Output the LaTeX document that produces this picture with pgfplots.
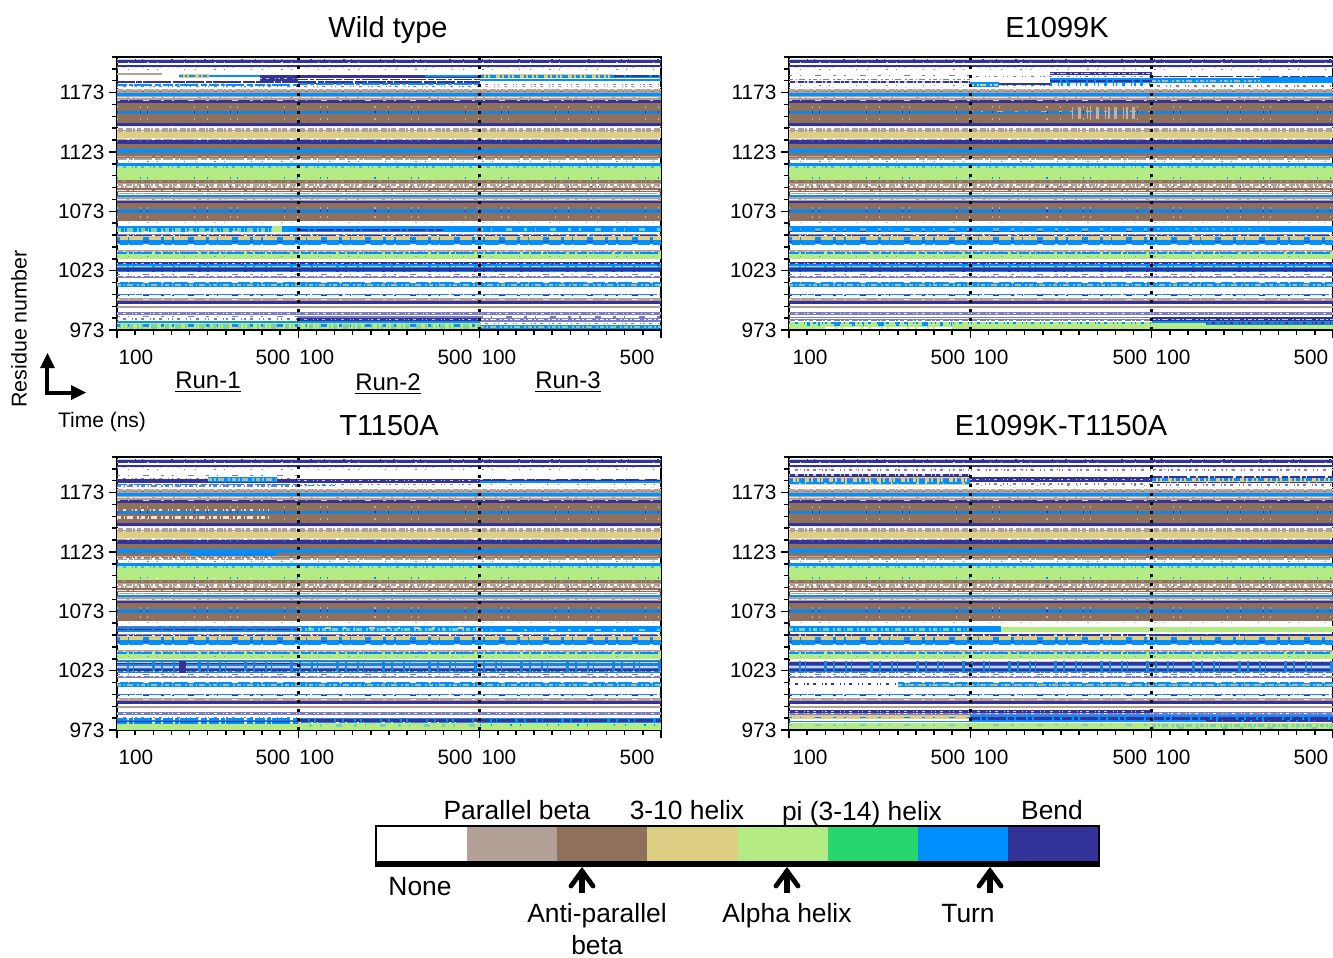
\documentclass[border=0pt]{standalone}
\usepackage{fontspec}
\setmainfont{Liberation Sans}
\usepackage{pgfplots}
\pgfplotsset{compat=1.18}
\definecolor{Pa}{HTML}{B3A097}
\definecolor{An}{HTML}{8F715B}
\definecolor{Th}{HTML}{DCCE82}
\definecolor{Al}{HTML}{B4EB84}
\definecolor{Pi}{HTML}{28D66E}
\definecolor{Tu}{HTML}{0090FF}
\definecolor{TuD}{HTML}{1A84DC}
\definecolor{Be}{HTML}{333399}
\definecolor{BeL}{HTML}{7C7CC4}
\colorlet{PaW}{Pa!30!white}
\colorlet{AnW}{An!55!white}
\colorlet{BeW}{Be!25!white}
\colorlet{ThT}{Th!75!Tu}
\colorlet{AlT}{Al!70!Tu}
\colorlet{TuA}{Tu!55!Al}
\tikzset{
 pA/.style={dash pattern=on .5pt off 5pt on .5pt off 9pt on 1pt off 4pt on .5pt off 13pt},
 pB/.style={dash pattern=on 1pt off .8pt on .5pt off 1.6pt on 2pt off .6pt on .7pt off 1.2pt},
 pC/.style={dash pattern=on 5pt off 1pt on 2pt off .7pt on 9pt off 1.3pt on 3pt off 1pt},
 pD/.style={dash pattern=on .7pt off 2.2pt on 1.5pt off 3pt on .5pt off 1.2pt},
 pE/.style={dash pattern=on 1.5pt off 4pt on .7pt off 7pt on 3pt off 6pt},
 pG/.style={dash pattern=on 2pt off 1.4pt on .8pt off .8pt on 3pt off 2pt on 1pt off 1pt},
 pS/.style={dash pattern=on .5pt off 11pt on .5pt off 3pt on .5pt off 23pt on .6pt off 6pt},
 pH/.style={dash pattern=on 9pt off .7pt on 3pt off .5pt on 14pt off .9pt on 6pt off .6pt},
}
% band: x from, x to, residue from, residue to, state colour
\newcommand\F[5]{\addplot[draw=none,fill=#5] coordinates {(#1,#3)(#2,#3)(#2,#4)(#1,#4)} --cycle;}
\newcommand\W[3]{\F{0}{1500}{#1}{#2}{#3}}
% intermittent row: x from, x to, residue, width, state colour, pattern
\newcommand\D[6]{\addplot[color=#5,line width=#4pt,#6] coordinates {(#1,#3)(#2,#3)};}
\newcommand\Base{%
\W{1198}{1201.5}{Be}\D{0}{1500}{1200.8}{.5}{BeW}{pH}\D{0}{1500}{1198.6}{.5}{BeW}{pA}
\W{1194.2}{1196.4}{Be}\D{0}{1500}{1194.6}{.4}{BeW}{pD}\D{0}{1500}{1192.8}{.5}{BeL}{pA}
\W{1173}{1176.3}{Pa}\D{0}{1500}{1175.6}{.6}{PaW}{pD}\D{0}{1500}{1173.9}{.4}{An}{pD}\D{0}{1500}{1177.2}{.5}{PaW}{pD}
\W{1170.4}{1173}{Tu}
\W{1167}{1170.4}{Pa}\D{0}{1500}{1169}{.4}{PaW}{pC}
\W{1164.5}{1167}{Be}\D{0}{1500}{1166.6}{.3}{BeW}{pE}
\W{1157.8}{1164.5}{An}\D{0}{1500}{1161}{1.2}{AnW}{pS}
\W{1155.3}{1157.8}{TuD}\D{0}{1500}{1156.5}{.8}{Be}{pS}
\W{1147.7}{1155.3}{An}\D{0}{1500}{1151}{1.2}{AnW}{pS}
\W{1145.2}{1147.7}{Be}\D{0}{1500}{1144.3}{.7}{PaW}{pH}
\W{1139.7}{1143.5}{Pa}\D{0}{1500}{1142.3}{.7}{white}{pD}\D{0}{1500}{1140.5}{.4}{PaW}{pD}
\W{1135}{1139.7}{Th}\D{0}{1500}{1134}{.6}{PaW}{pC}
\W{1130}{1133.4}{Be}\D{0}{1500}{1132}{.8}{Tu}{pS}\D{0}{1500}{1133.6}{.4}{Pa}{pC}
\W{1125.9}{1130}{An}
\W{1122.5}{1125.9}{Tu}\D{0}{1500}{1124}{1}{TuD}{pA}
\W{1118.3}{1122.5}{An}\D{0}{1500}{1119}{.4}{AnW}{pC}\D{0}{1500}{1117}{.6}{Pa}{pC}
\D{0}{1500}{1114.8}{.8}{BeL}{pA}
\W{1110.8}{1113.3}{Tu}
\W{1099}{1110.8}{Al}\D{0}{1500}{1110.2}{.8}{TuA}{pD}\D{0}{1500}{1101}{.8}{Tu}{pS}
\W{1096.5}{1099}{An}\D{0}{1500}{1098}{.4}{Pa}{pD}
\W{1092.3}{1096.5}{Pa}\D{0}{1500}{1095.2}{.7}{white}{pD}\D{0}{1500}{1093.4}{.6}{PaW}{pG}\D{0}{1500}{1094}{.4}{Be}{pS}
\W{1089}{1092.3}{An}\D{0}{1500}{1090.9}{.5}{PaW}{pC}
\D{0}{1500}{1088}{.5}{Pa}{pH}
\W{1084.7}{1087}{Tu}\D{0}{1500}{1086}{.4}{TuD}{pE}
\W{1082}{1084.7}{Pa}\D{0}{1500}{1083.2}{.3}{PaW}{pC}
\W{1079.7}{1082}{Be}
\W{1074.6}{1079.7}{An}\D{0}{1500}{1076}{1}{AnW}{pS}
\W{1071.3}{1074.6}{TuD}\D{0}{1500}{1073}{1}{Be}{pS}
\W{1064.6}{1071.3}{An}\D{0}{1500}{1068}{1}{AnW}{pS}\D{0}{1500}{1063.8}{.5}{AnW}{pA}
\W{1055.3}{1060.4}{Tu}
\D{0}{1500}{1053.6}{.6}{BeL}{pH}
\W{1048.6}{1052}{Th}\D{0}{1500}{1050}{1.2}{Tu}{pE}\D{0}{1500}{1052.3}{.5}{Be}{pC}
\W{1044.4}{1048.6}{Tu}\D{0}{1500}{1047.2}{.5}{Be}{pE}\D{0}{1500}{1045}{.4}{PaW}{pE}
\W{1038.5}{1040.2}{Pa}\D{0}{1500}{1039.5}{.3}{PaW}{pD}
\W{1032.6}{1038.5}{Al}\D{0}{1500}{1037.8}{.9}{Tu}{pC}\D{0}{1500}{1035}{.9}{TuA}{pA}
\W{1027.6}{1030}{Be}\D{0}{1500}{1028.2}{.7}{Tu}{pH}\D{0}{1500}{1029.6}{.3}{BeW}{pD}
\W{1025}{1027.6}{Tu}\D{0}{1500}{1026.2}{.4}{BeW}{pC}
\W{1021.7}{1025}{Be}\D{0}{1500}{1022.3}{.4}{Tu}{pC}
\D{0}{1500}{1020}{.4}{BeL}{pE}
\W{1016.9}{1018.8}{BeL}\D{0}{1500}{1017.8}{.4}{white}{pD}
\W{1009}{1013.3}{Tu}\D{0}{1500}{1011}{1.2}{ThT}{pG}\D{0}{1500}{1012.9}{.4}{white}{pE}
\D{0}{1500}{1003}{.8}{Tu}{pH}\D{0}{1500}{1002}{.6}{Be}{pE}
\W{997.4}{1000}{Pa}\D{0}{1500}{998.8}{.3}{PaW}{pE}
\W{994.8}{997.4}{Be}
\W{991.5}{993.2}{Pa}
\W{985.6}{988}{BeL}\D{0}{1500}{986.6}{.4}{white}{pD}
}
\newcommand\Dots{%
\addplot[black,line width=1.5pt,dash pattern=on 1.5pt off 3pt] coordinates {(500,973)(500,1203)};
\addplot[black,line width=1.5pt,dash pattern=on 1.5pt off 3pt] coordinates {(1000,973)(1000,1203)};
}
\newcommand\Wild{%
\F{0}{125}{1188}{1189.5}{Pa}\F{170}{255}{1185}{1189}{Th}\D{170}{255}{1187}{.7}{Tu}{pG}
\F{255}{395}{1186.5}{1188}{Tu}\F{395}{500}{1183}{1188}{Be}\D{395}{500}{1185}{.6}{BeW}{pD}
\D{0}{500}{1181.8}{1}{Be}{pH}\D{0}{500}{1179.6}{1.2}{Tu}{pC}\D{0}{500}{1178}{.7}{BeL}{pD}\D{170}{300}{1180.5}{.5}{Th}{pD}
\F{500}{1000}{1185.5}{1188}{Be}\D{500}{1000}{1184}{.8}{Be}{pC}\F{850}{1000}{1186}{1188}{Tu}\D{500}{1000}{1181.5}{1.3}{Be}{pH}\D{500}{1000}{1180}{1}{Tu}{pC}\D{500}{1000}{1178.4}{.5}{BeL}{pD}
\F{1000}{1370}{1185}{1188.5}{Th}\D{1000}{1370}{1186.6}{1.2}{Tu}{pG}\F{1370}{1500}{1185}{1188}{Tu}\D{1370}{1500}{1187}{.8}{Be}{pC}\F{1000}{1500}{1183.2}{1184.8}{Tu}\D{1000}{1500}{1180}{.7}{BeL}{pD}\D{1000}{1500}{1178.4}{.5}{Pa}{pD}
\D{0}{430}{1057.5}{2}{AlT}{pG}\F{427}{500}{1060.4}{1062}{white}\F{427}{455}{1055.3}{1060.4}{Al}\D{0}{430}{1056}{.6}{Th}{pE}
\F{500}{900}{1055.5}{1058.2}{TuD}\D{500}{900}{1057}{.9}{Be}{pC}
\D{1000}{1500}{1057.6}{1.1}{AlT}{pE}
\F{0}{1000}{973.8}{979}{Al}\D{0}{1000}{976}{2.4}{AlT}{pG}\D{0}{1000}{977}{1.6}{Tu}{pE}\D{0}{1000}{974.8}{1}{Th}{pE}
\F{0}{500}{979}{980.8}{Tu}\D{0}{500}{982.5}{.9}{BeL}{pD}\D{0}{500}{984.5}{.4}{BeL}{pE}
\F{500}{1000}{979}{980.5}{Tu}\F{500}{1000}{981}{983.4}{Be}\D{500}{1000}{982}{.5}{BeW}{pD}\F{500}{1000}{983.5}{984.5}{BeL}
\F{1000}{1500}{973.8}{977.5}{Tu}\D{1000}{1500}{975.5}{1.4}{AlT}{pG}\D{1000}{1500}{978.5}{.6}{BeL}{pD}\F{1000}{1500}{980}{983}{BeL}\D{1000}{1500}{982}{.6}{white}{pG}\D{1000}{1500}{984}{.6}{BeL}{pE}
}
\newcommand\EK{%
\D{0}{500}{1187.5}{.7}{BeL}{pE}\D{0}{500}{1184}{.9}{BeL}{pG}\F{0}{500}{1181}{1182.5}{Be}\D{0}{500}{1182}{.7}{BeW}{pD}\D{0}{500}{1179}{.5}{BeL}{pA}
\D{500}{1000}{1186.7}{.7}{BeL}{pD}\D{500}{1000}{1180}{1.2}{Tu}{pD}\F{500}{580}{1178}{1182}{Tu}\D{500}{600}{1179.5}{1}{Th}{pG}\F{580}{720}{1179.5}{1181.5}{Be}
\F{720}{1000}{1187.5}{1190}{Be}\D{720}{1000}{1188.8}{.4}{BeW}{pG}\F{720}{1000}{1181}{1185}{Tu}\D{720}{1000}{1183}{1.2}{Be}{pC}
\F{1000}{1500}{1181}{1185}{Tu}\D{1000}{1500}{1183}{1.1}{ThT}{pG}\D{1000}{1500}{1186.5}{.9}{Be}{pC}\F{1300}{1500}{1182}{1186}{Tu}\D{1000}{1500}{1178.6}{.6}{BeL}{pD}
\D{780}{960}{1156}{6}{AnW}{pD}\D{500}{1000}{1157}{.8}{AnW}{pE}
\D{0}{1000}{1057.6}{1.1}{TuA}{pE}\D{0}{1000}{1056.2}{.6}{Be}{pE}\D{1000}{1500}{1057.8}{.9}{TuA}{pD}\F{1320}{1500}{1056}{1060}{Tu}
\F{0}{1500}{973.8}{979.8}{Al}\D{0}{1000}{978.7}{1.2}{Tu}{pD}
\D{50}{450}{978}{1.8}{Tu}{pE}
\F{0}{1000}{980.5}{982.5}{BeL}\D{0}{1000}{981.5}{.4}{white}{pD}\F{0}{1000}{983}{984.2}{BeL}
\F{1000}{1500}{979.2}{980.6}{Tu}\F{1000}{1500}{981}{984.2}{Be}\D{1000}{1500}{982}{.4}{BeW}{pG}\F{1150}{1500}{977}{981}{TuD}\D{1150}{1500}{979}{1}{Be}{pD}
\D{100}{450}{974.5}{.8}{white}{pC}
}
\newcommand\TA{%
\D{0}{500}{1187}{.5}{BeL}{pE}\D{0}{500}{1185}{.7}{BeL}{pD}\F{0}{500}{1181.5}{1184.5}{Be}\F{250}{440}{1182}{1186}{Tu}\D{250}{440}{1184}{1.2}{ThT}{pG}\D{0}{500}{1180}{.8}{Tu}{pC}\D{0}{500}{1178.6}{.7}{BeL}{pG}
\F{500}{1000}{1181.5}{1184.5}{Be}\D{500}{1000}{1183}{.5}{BeW}{pD}\D{500}{1000}{1180}{.7}{BeL}{pD}\D{500}{600}{1179}{.8}{Tu}{pG}
\F{1000}{1500}{1181.5}{1184.5}{Be}\F{1000}{1500}{1181}{1183}{Tu}\D{1000}{1500}{1184}{.8}{Th}{pE}\D{1000}{1500}{1180}{.7}{BeL}{pA}
\D{0}{420}{1158.5}{1}{PaW}{pD}\D{0}{420}{1152}{1.3}{PaW}{pG}
\F{200}{440}{1119.5}{1122.5}{TuD}\D{0}{440}{1118}{.7}{PaW}{pD}
\D{0}{400}{1100.5}{.7}{white}{pA}
\F{0}{500}{1055.3}{1060.4}{TuD}\D{0}{500}{1057.6}{.9}{Be}{pC}\D{0}{500}{1060.4}{.6}{BeL}{pG}
\D{500}{1000}{1057.5}{1.3}{AlT}{pG}\D{500}{1000}{1058.9}{.7}{Th}{pE}\D{1000}{1500}{1057.5}{1}{AlT}{pE}
\D{0}{1000}{1052.6}{.7}{Be}{pC}\D{0}{500}{1050}{1.2}{Tu}{pE}
\F{0}{1500}{1021}{1032}{TuD}\D{0}{500}{1029.2}{1.1}{Be}{pC}\D{0}{1500}{1026}{.7}{BeW}{pC}\D{0}{1500}{1023.5}{1.3}{Be}{pC}\D{0}{1500}{1030.2}{.5}{BeW}{pC}\D{0}{1500}{1022}{.4}{BeW}{pD}\F{170}{190}{1021}{1031}{Be}
\F{0}{1500}{973}{978.5}{Al}\D{0}{1000}{978.6}{1}{Tu}{pC}\D{0}{500}{982}{1}{Tu}{pC}\D{0}{500}{983.5}{.5}{BeL}{pD}\F{0}{500}{979.5}{981.8}{TuD}\D{0}{500}{980}{.6}{Be}{pC}
\F{500}{1000}{973.5}{979}{Al}\F{500}{1000}{979.5}{983}{TuD}\D{500}{1000}{981}{1.2}{Be}{pC}\D{500}{1000}{978}{1.2}{Th}{pE}\D{530}{1000}{976.8}{1.4}{AlT}{pE}
\F{1000}{1500}{979}{983}{Tu}\D{1000}{1500}{981}{1.1}{Be}{pC}\D{1000}{1500}{977}{1}{Tu}{pA}
}
\newcommand\EKTA{%
\D{0}{1500}{1192}{.6}{BeL}{pD}
\F{0}{500}{1186}{1189}{Be}\D{0}{500}{1187.5}{1}{BeW}{pD}\F{0}{500}{1179}{1186}{Th}\D{0}{500}{1183}{1.8}{Tu}{pG}\D{0}{500}{1181}{1.2}{Tu}{pC}\D{0}{500}{1185}{.8}{BeL}{pG}
\F{500}{1000}{1182.2}{1186.4}{Be}\D{500}{1000}{1184}{.6}{BeW}{pD}\D{500}{1000}{1180.5}{.8}{BeL}{pD}\D{500}{1000}{1179}{.5}{BeL}{pA}
\F{1000}{1500}{1181.5}{1186}{Th}\D{1000}{1500}{1184}{1.4}{Tu}{pG}\D{1000}{1500}{1186.4}{.9}{Be}{pC}\D{1000}{1500}{1181.6}{.8}{Be}{pH}\D{1000}{1500}{1179.5}{.6}{BeL}{pD}
\D{0}{500}{1057.6}{1.5}{AlT}{pG}\F{500}{585}{1055.3}{1060}{Tu}\F{585}{1000}{1055.3}{1059.5}{Al}\F{1000}{1500}{1055.3}{1059.5}{Al}\F{585}{1500}{1059.5}{1060.6}{white}\D{1010}{1500}{1057}{.7}{AlT}{pA}
\D{0}{1000}{1053}{.7}{Be}{pC}\D{1000}{1500}{1053}{.7}{Be}{pH}
\F{0}{1500}{1021}{1031}{TuD}\D{0}{1500}{1029}{1.1}{Be}{pC}\D{0}{1500}{1026.2}{.7}{BeW}{pC}\D{0}{1500}{1023.5}{1.3}{Be}{pC}\D{0}{1500}{1030.7}{.5}{BeW}{pC}\D{0}{1500}{1021.6}{.4}{BeW}{pD}
\F{0}{300}{1008.8}{1013.5}{white}\D{0}{300}{1011.5}{.9}{Be}{pD}\D{300}{1500}{1011}{1.3}{ThT}{pG}
\F{0}{1000}{987.2}{989.8}{Be}\D{0}{1000}{988.5}{.5}{BeW}{pD}
\F{0}{1500}{973.7}{979}{Al}\D{0}{1000}{977}{1.1}{AlT}{pE}
\F{0}{500}{979.5}{981}{Tu}\F{0}{500}{982}{985.6}{Th}\D{0}{500}{983.5}{.9}{Tu}{pE}
\F{500}{1500}{980}{986}{Tu}\D{500}{1500}{983}{1.4}{Be}{pC}\D{1150}{1500}{980.5}{1}{Be}{pC}\D{1000}{1500}{977}{1.3}{AlT}{pG}\D{1000}{1500}{975}{1}{AlT}{pE}
}
\pgfplotsset{panel/.style={
 scale only axis,width=272pt,height=136.5pt,anchor=south west,
 xmin=0,xmax=1500,ymin=973,ymax=1203,
 axis line style={line width=1pt},
 tick style={black,line width=.75pt},
 tick align=outside,tick pos=left,
 xtick={0,500,1000,1500},xticklabels={,,,},
 minor xtick={50,100,...,450,550,600,...,950,1050,1100,...,1450},
 ytick={973,1023,1073,1123,1173},yticklabels={973,1023,1073,1123,1173},
 minor ytick={983,993,1003,1013,1033,1043,1053,1063,1083,1093,1103,1113,1133,1143,1153,1163,1183,1193,1203},
 major tick length=4pt,minor tick length=2.5pt,
 every tick label/.append style={font=\fontsize{10.4}{12}\selectfont},
 yticklabel style={xshift=1.2pt},
 extra x tick style={major tick length=0pt,xticklabel style={yshift=-6.4pt}},
 clip=true}}
\begin{document}
\begin{tikzpicture}[x=0.5pt,y=-0.5pt]
\path[use as bounding box] (0,0) rectangle (1333,958);
\begin{axis}[panel,at={(58.5pt,-165pt)},extra x ticks={52,430,551,932,1053,1434},extra x tick labels={100,500,100,500,100,500}]
\Base\Wild\Dots
\end{axis}
\begin{axis}[panel,at={(394.5pt,-165pt)},extra x ticks={58,438,557,940,1059,1439},extra x tick labels={100,500,100,500,100,500}]
\Base\EK\Dots
\end{axis}
\begin{axis}[panel,at={(58.5pt,-365pt)},extra x ticks={52,430,551,932,1053,1434},extra x tick labels={100,500,100,500,100,500}]
\Base\TA\Dots
\end{axis}
\begin{axis}[panel,at={(394.5pt,-365pt)},extra x ticks={58,438,557,940,1059,1439},extra x tick labels={100,500,100,500,100,500}]
\Base\EKTA\Dots
\end{axis}
% state key
\begin{axis}[at={(188.5pt,-431.5pt)},anchor=south west,scale only axis,width=360.5pt,height=18pt,
 xmin=0,xmax=8,ymin=0,ymax=1,ticks=none,axis line style={line width=2.2pt},clip=true]
\F{0}{1}{0}{1}{white}\F{1}{2}{0}{1}{Pa}\F{2}{3}{0}{1}{An}\F{3}{4}{0}{1}{Th}
\F{4}{5}{0}{1}{Al}\F{5}{6}{0}{1}{Pi}\F{6}{7}{0}{1}{Tu}\F{7}{8}{0}{1}{Be}
\end{axis}
\fill (375,861) rectangle (1100,867);
% texts
\tikzset{T/.style={inner sep=0pt,yshift=-2.1pt,font=\fontsize{#1}{#1}\selectfont,text=black,text height=.72em,text depth=.21em},T/.default=13.2}
\node[T=14.5] at (388,28) {Wild type};
\node[T=14.5] at (1057,28) {E1099K};
\node[T=14.5] at (389,426) {T1150A};
\node[T=14.5] at (1061,426) {E1099K-T1150A};
\node[T=12] at (208,379) {\underline{Run-1}};
\node[T=12] at (388,381) {\underline{Run-2}};
\node[T=12] at (568,379) {\underline{Run-3}};
\node[inner sep=0pt,font=\fontsize{10.7}{10.7}\selectfont,rotate=90] at (19,329) {Residue number};
\node[T=10.5] at (102,418) {Time (ns)};
\node[T] at (517,810) {Parallel beta};
\node[T] at (687,810) {3-10 helix};
\node[T] at (862,811) {pi (3-14) helix};
\node[T] at (1052,810) {Bend};
\node[T] at (420,886) {None};
\node[T] at (597,913) {Anti-parallel};
\node[T] at (597,945) {beta};
\node[T] at (787,913) {Alpha helix};
\node[T] at (968,913) {Turn};
% arrows
\foreach \a in {582,787,990}{
 \draw[line width=3pt] (\a,893)--(\a,870);
 \draw[line width=2.4pt,line cap=round,line join=miter] (\a-11,886)--(\a,871)--(\a+11,886);
}
\draw[line width=1.8pt] (47,366)--(47,393)--(72,393);
\fill (47.5,353)--(55,368)--(40,368)--cycle;
\fill (86,392.5)--(71,385)--(71,400)--cycle;
\end{tikzpicture}
\end{document}
